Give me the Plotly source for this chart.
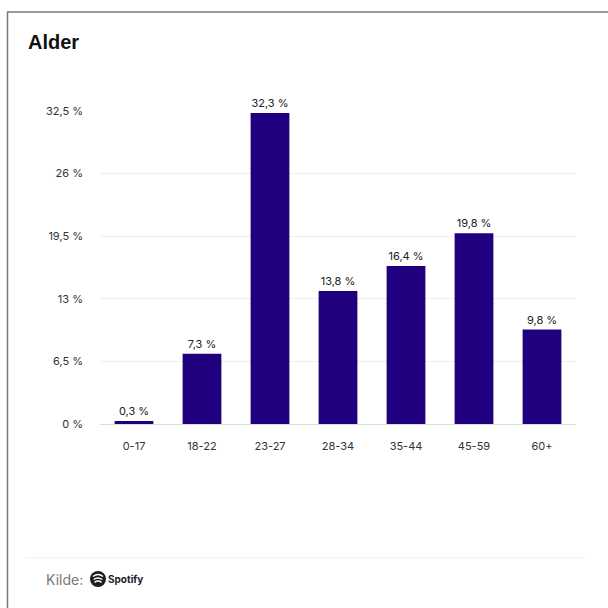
import plotly.graph_objects as go

categories = ["0-17", "18-22", "23-27", "28-34", "35-44", "45-59", "60+"]
values = [0.3, 7.3, 32.3, 13.8, 16.4, 19.8, 9.8]
value_labels = ["0,3 %", "7,3 %", "32,3 %", "13,8 %", "16,4 %", "19,8 %", "9,8 %"]
tick_vals = [0, 6.5, 13, 19.5, 26, 32.5]
tick_text = ["0 %", "6,5 %", "13 %", "19,5 %", "26 %", "32,5 %"]

W = H = 608
L, R, T, B = 100, 32, 111, 184
PW, PH = W - L - R, H - T - B
FONT = "Inter"

fig = go.Figure(go.Bar(
    x=categories, y=values,
    text=value_labels, textposition="outside",
    textfont=dict(size=11, color="#222", family=FONT),
    marker=dict(color="#21007f", line=dict(width=0)),
    cliponaxis=False,
    hoverinfo="skip",
))

fig.update_layout(
    width=W, height=H,
    margin=dict(l=L, r=R, t=T, b=B, autoexpand=False),
    paper_bgcolor="white", plot_bgcolor="white",
    showlegend=False,
    bargap=0.43,
    font=dict(family=FONT, size=11, color="#333"),
    xaxis=dict(
        showgrid=False, showline=True, linecolor="#dddddd", linewidth=1,
        ticks="", tickfont=dict(size=11, color="#333", family=FONT),
        ticklabelstandoff=12,
    ),
    yaxis=dict(
        range=[0, 32.5], tickvals=tick_vals, ticktext=tick_text,
        showgrid=True, gridcolor="#eeeeee", gridwidth=1,
        zeroline=False, showline=False, ticks="",
        tickfont=dict(size=11, color="#333", family=FONT),
        ticklabelstandoff=16,
    ),
)

def px(x):
    return (x - L) / PW

def py(y):
    return (T + PH - y) / PH

shapes = [
    dict(type="line", xref="paper", yref="paper", x0=px(7), x1=px(610), y0=py(12), y1=py(12),
         line=dict(color="#777777", width=1.5)),
    dict(type="line", xref="paper", yref="paper", x0=px(7.5), x1=px(7.5), y0=py(12), y1=py(610),
         line=dict(color="#777777", width=1.5)),
    dict(type="line", xref="paper", yref="paper", x0=px(25), x1=px(585), y0=py(558), y1=py(558),
         line=dict(color="#eeeeee", width=1)),
    dict(type="circle", xref="paper", yref="paper", x0=px(90), x1=px(106), y0=py(587), y1=py(571),
         fillcolor="#1d1d1d", line=dict(width=0)),
]
for cy, w, sag in [(576.5, 5.0, 2.0), (579.5, 4.3, 1.6), (582.3, 3.5, 1.2)]:
    cx = 98
    shapes.append(dict(
        type="path", xref="paper", yref="paper",
        path=f"M {px(cx - w)},{py(cy)} Q {px(cx)},{py(cy - 2 * sag)} {px(cx + w)},{py(cy)}",
        line=dict(color="white", width=1.5),
    ))
fig.update_layout(shapes=shapes)

fig.add_annotation(xref="paper", yref="paper", x=px(26), y=py(42), xanchor="left", yanchor="middle",
                   text="<b>Alder</b>", showarrow=False,
                   font=dict(size=20, color="#111", family="Liberation Sans"))
fig.add_annotation(xref="paper", yref="paper", x=px(44), y=py(579), xanchor="left", yanchor="middle",
                   text="Kilde:", showarrow=False,
                   font=dict(size=14, color="#777", family=FONT))
fig.add_annotation(xref="paper", yref="paper", x=px(106), y=py(579), xanchor="left", yanchor="middle",
                   text="<b>Spotify</b>", showarrow=False,
                   font=dict(size=10, color="#1d1d1d", family=FONT))

fig.write_html("out.html", config={"displayModeBar": False},
               post_script="document.body.style.margin='0';document.body.style.overflow='hidden';")
